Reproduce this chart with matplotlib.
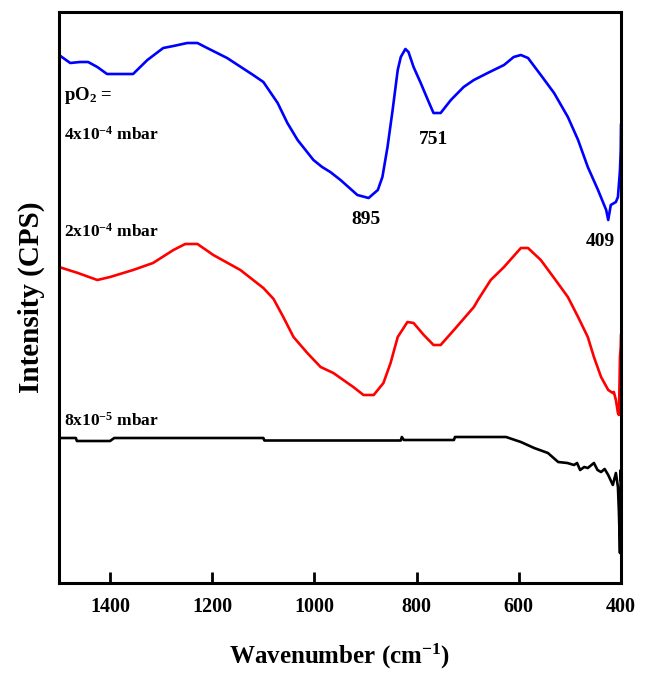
import matplotlib
matplotlib.use("Agg")
import matplotlib.pyplot as plt

plt.rcParams['font.family'] = ['Liberation Serif', 'DejaVu Serif']
plt.rcParams['font.weight'] = 'bold'
plt.rcParams['mathtext.fontset'] = 'custom'
plt.rcParams['mathtext.rm'] = 'Liberation Serif:bold'
plt.rcParams['mathtext.bf'] = 'Liberation Serif:bold'
plt.rcParams['mathtext.it'] = 'Liberation Serif:bold'
plt.rcParams['mathtext.default'] = 'bf'

# Intensity values are arbitrary units (offset stack)
blue_w = [1500, 1478, 1459, 1443, 1425, 1406, 1355, 1327, 1296, 1276, 1249, 1229, 1210,
          1171, 1120, 1100, 1072, 1053, 1033, 1002, 985, 969, 949, 916, 894, 876, 867,
          857, 847, 837, 831, 822, 816, 806, 792, 778, 767, 753, 733, 708, 688, 661,
          629, 610, 596, 582, 557, 531, 504, 484, 465, 445, 429, 425, 420, 410, 406,
          402, 400.5, 400]
blue_i = [545, 537, 538, 538, 533, 526, 526, 540, 552, 554, 557, 557, 552,
          542, 525, 518, 497, 477, 460, 440, 433, 428, 420, 405, 402, 410, 423,
          453, 490, 530, 543, 551, 548, 533, 517, 500, 487, 487, 500, 513, 520, 527,
          535, 543, 545, 542, 525, 507, 483, 460, 433, 410, 390, 380, 395, 398, 403,
          430, 450, 475]

red_w = [1500, 1463, 1425, 1400, 1355, 1316, 1276, 1253, 1229, 1198, 1145, 1100, 1080,
         1061, 1041, 1014, 988, 963, 924, 904, 884, 865, 851, 837, 818, 806, 786, 767,
         753, 727, 688, 680, 655, 629, 596, 582, 557, 531, 504, 484, 465, 453, 439,
         425, 416, 414, 410, 406, 404, 402, 400.5, 400]
red_i = [333, 327, 320, 323, 330, 337, 350, 356, 356, 345, 330, 312, 301,
         283, 263, 247, 233, 227, 213, 205, 205, 217, 237, 263, 278, 277, 265, 255,
         255, 270, 293, 300, 320, 333, 352, 352, 340, 322, 303, 283, 263, 243, 223,
         210, 207, 208, 200, 187, 185, 243, 253, 265]

black_w = [1500, 1467, 1465, 1400, 1392, 1100, 1098, 831, 829, 825, 727, 725, 625,
           596, 570, 543, 523, 505, 492, 486, 480, 472, 465, 453, 446, 439, 432, 425,
           416, 410, 406, 404, 402, 401, 400.5, 400]
black_i = [162, 162, 159, 159, 162, 162, 159.5, 159.5, 163, 160, 160, 163, 163,
           158, 152, 147, 138, 137, 135, 137, 130, 133, 132, 137, 130, 128, 131, 125,
           115, 127, 113, 87, 47, 100, 130, 120]

fig = plt.figure(figsize=(6.49, 6.73), dpi=100)
ax = fig.add_axes([59/649, 1-583/673, (621-59)/649, (583-12)/673])

ax.plot(blue_w, blue_i, color='#0000ff', lw=1.9)
ax.plot(red_w, red_i, color='#ff0000', lw=1.9)
ax.plot(black_w, black_i, color='black', lw=1.9)

ax.set_xlim(1500, 400)
ax.set_ylim(17, 588)
ax.set_xticks([1400, 1200, 1000, 800, 600, 400])
ax.set_yticks([])
ax.tick_params(axis='x', direction='in', length=8, width=2, labelsize=14.5, pad=10)
for lab in ax.get_xticklabels():
    lab.set_fontweight('bold')
for s in ax.spines.values():
    s.set_linewidth(2.2)

ax.set_xlabel(r'Wavenumber (cm$^{-1}$)', fontsize=18, fontweight='bold', labelpad=18)
ax.set_ylabel('Intensity (CPS)', fontsize=21, fontweight='bold', labelpad=10)

def px(x, y):
    return (1500 - (x - 59) * 200 / 102, 600 - y)

fs = 12.5
ax.text(*px(64, 96), r'pO$_2$ =', fontsize=13.5, fontweight='bold', va='center', ha='left')
ax.text(*px(64, 135), r'4x10$^{-4}$ mbar', fontsize=fs, fontweight='bold', va='center', ha='left')
ax.text(*px(64, 232), r'2x10$^{-4}$ mbar', fontsize=fs, fontweight='bold', va='center', ha='left')
ax.text(*px(64, 421), r'8x10$^{-5}$ mbar', fontsize=fs, fontweight='bold', va='center', ha='left')
ax.text(*px(365, 220), '895', fontsize=14, fontweight='bold', va='center', ha='center')
ax.text(*px(433, 140), '751', fontsize=14, fontweight='bold', va='center', ha='center')
ax.text(*px(599, 242), '409', fontsize=14, fontweight='bold', va='center', ha='center')

fig.savefig('out.png', dpi=100)
